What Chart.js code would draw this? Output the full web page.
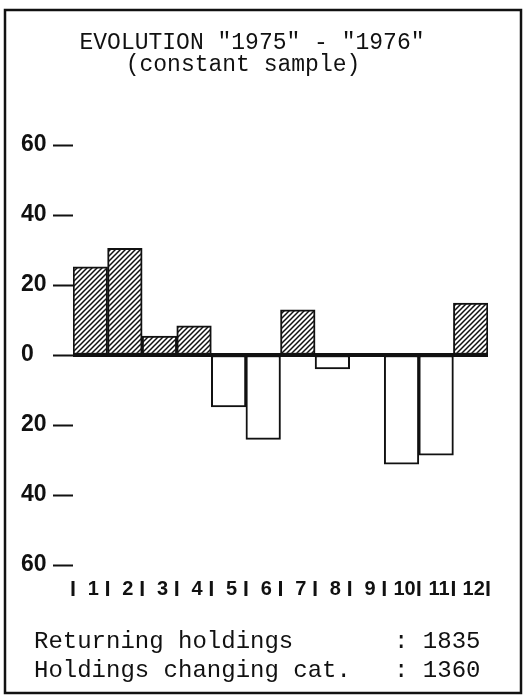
<!DOCTYPE html>
<html>
<head>
<meta charset="utf-8">
<script src="https://cdn.jsdelivr.net/npm/chart.js@4.4.1/dist/chart.umd.min.js"></script>
<style>
  html, body { margin: 0; padding: 0; background: #fff; }
  #wrap { position: relative; width: 525px; height: 700px; }
</style>
</head>
<body>
<div id="wrap"><canvas id="chart" width="525" height="700"></canvas></div>
<script>
const categories = ["1", "2", "3", "4", "5", "6", "7", "8", "9", "10", "11", "12"];
const evolution = [25.2, 30.5, 5.4, 8.3, -14.8, -24.1, 12.9, -4.0, 0, -31.2, -28.6, 14.8];
const yTicks = [-60, -40, -20, 0, 20, 40, 60];
const titleLines = ['EVOLUTION "1975" - "1976"', "(constant sample)"];
const footerLabels = ["Returning holdings", "Holdings changing cat."];
const footerValues = ["1835", "1360"];

const INK = "#111";

function hatchPattern() {
  const size = 5;
  const c = document.createElement("canvas");
  c.width = size;
  c.height = size;
  const g = c.getContext("2d");
  g.fillStyle = "#fff";
  g.fillRect(0, 0, size, size);
  g.strokeStyle = INK;
  g.lineWidth = 1.5;
  g.beginPath();
  g.moveTo(-1, size + 1); g.lineTo(size + 1, -1);
  g.moveTo(-1, 1); g.lineTo(1, -1);
  g.moveTo(size - 1, size + 1); g.lineTo(size + 1, size - 1);
  g.stroke();
  return g.createPattern(c, "repeat");
}

const ctx = document.getElementById("chart").getContext("2d");
const hatch = hatchPattern();

// frame, title, zero line, category pipes and the footer text
const decorations = {
  id: "decorations",
  afterDraw(chart) {
    const c = chart.ctx;
    const x = chart.scales.x;
    const y = chart.scales.y;
    const area = chart.chartArea;
    c.save();

    c.strokeStyle = INK;
    c.lineWidth = 2.5;
    c.strokeRect(5, 10, 516, 683);

    // thick baseline on top of the bars
    c.lineWidth = 4;
    c.beginPath();
    c.moveTo(area.left, y.getPixelForValue(0));
    c.lineTo(area.right, y.getPixelForValue(0));
    c.stroke();

    c.fillStyle = INK;
    c.font = "23px 'Liberation Mono', monospace";
    c.textAlign = "center";
    c.textBaseline = "alphabetic";
    c.fillText(titleLines[0], 252, 49);
    c.fillText(titleLines[1], 243, 71);

    // pipes between the category numbers
    const half = (x.getPixelForValue(1) - x.getPixelForValue(0)) / 2;
    c.lineWidth = 3;
    for (let i = 0; i <= categories.length; i++) {
      const px = x.getPixelForValue(i) - half;
      c.beginPath();
      c.moveTo(px, 581);
      c.lineTo(px, 596);
      c.stroke();
    }

    c.font = "24px 'Liberation Mono', monospace";
    c.textAlign = "left";
    footerLabels.forEach((label, i) => {
      const line = label.padEnd(25, " ") + ": " + footerValues[i];
      c.fillText(line, 34, 648 + i * 29);
    });

    c.restore();
  }
};

new Chart(ctx, {
  type: "bar",
  data: {
    labels: categories,
    datasets: [{
      data: evolution,
      backgroundColor: evolution.map((v) => (v > 0 ? hatch : "#fff")),
      borderColor: INK,
      borderWidth: 2,
      borderSkipped: false,
      categoryPercentage: 1,
      barPercentage: 1
    }]
  },
  options: {
    responsive: false,
    animation: false,
    devicePixelRatio: 1,
    layout: { padding: { left: 21, right: 37, top: 145, bottom: 90 } },
    plugins: {
      legend: { display: false },
      tooltip: { enabled: false }
    },
    scales: {
      x: {
        grid: { display: false },
        border: { display: false },
        ticks: {
          color: INK,
          font: { family: "'Liberation Sans', Arial, sans-serif", size: 20, weight: "bold" },
          padding: 4,
          maxRotation: 0,
          autoSkip: false,
          labelOffset: 3
        },
        afterFit(scale) { scale.height = 45; }
      },
      y: {
        min: -60,
        max: 60,
        afterBuildTicks(scale) {
          scale.ticks = yTicks.map((v) => ({ value: v }));
        },
        border: { display: false },
        grid: {
          drawOnChartArea: false,
          drawTicks: true,
          tickLength: 20,
          tickColor: INK,
          tickWidth: 2
        },
        ticks: {
          color: INK,
          crossAlign: "far",
          padding: 3,
          font: { family: "'Liberation Sans', Arial, sans-serif", size: 23, weight: "bold" },
          callback: (v) => String(Math.abs(v))
        },
        afterFit(scale) { scale.width = 52; }
      }
    }
  },
  plugins: [decorations]
});
</script>
</body>
</html>
